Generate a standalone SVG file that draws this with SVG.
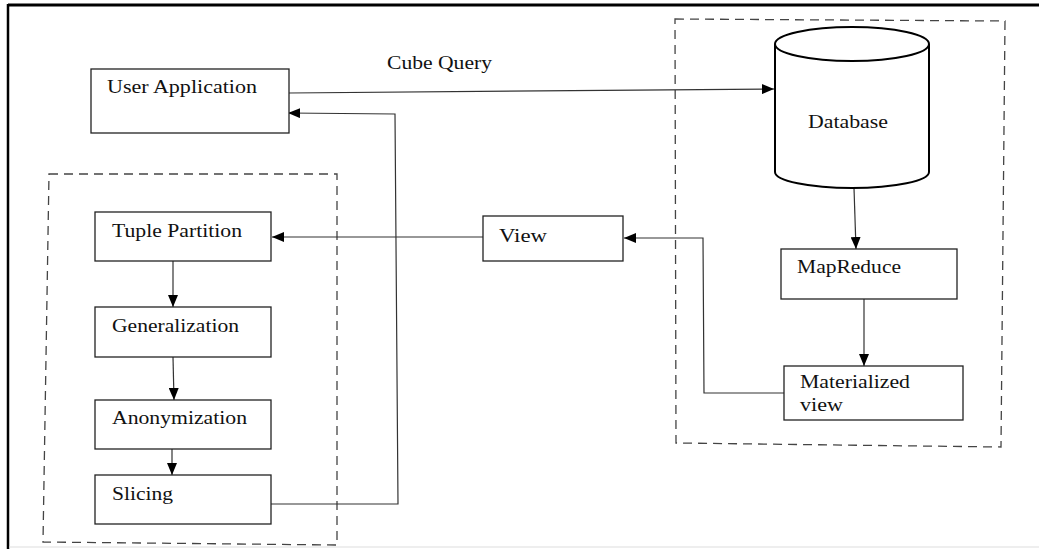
<svg xmlns="http://www.w3.org/2000/svg" width="1039" height="549" viewBox="0 0 1039 549">
<style>
.box{fill:#fff;stroke:#222;stroke-width:1.3}
.t{font-family:"Liberation Serif","Times New Roman",serif;font-size:19px;fill:#111}
.c{fill:none;stroke:#333;stroke-width:1.2}
.d{fill:none;stroke:#444;stroke-width:1.3;stroke-dasharray:9,6}
</style>
<defs>
<marker id="ah" viewBox="0 0 12 10" refX="12" refY="5" markerWidth="12" markerHeight="10" markerUnits="userSpaceOnUse" orient="auto">
<path d="M0,0 L12,5 L0,10 z" fill="#000"/>
</marker>
</defs>
<rect width="1039" height="549" fill="#fff"/>
<g id="frame">
<line x1="8" y1="5" x2="1039" y2="5" stroke="#000" stroke-width="3"/>
<line x1="8" y1="4" x2="8" y2="549" stroke="#000" stroke-width="2.5"/>
<line x1="9" y1="547" x2="1039" y2="547" stroke="#ddd" stroke-width="1"/>
</g>
<g id="groups">
<path class="d" d="M49,174 L337,174 L337,545 L43,542 Z"/>
<path class="d" d="M675,19 L1005,21 L1001,447 L676,443 Z"/>
</g>
<g id="connectors">
<line class="c" x1="289" y1="93" x2="774" y2="89" marker-end="url(#ah)"/>
<polyline class="c" points="269,504 398,504 395,114 288,113" marker-end="url(#ah)"/>
<line class="c" x1="854" y1="188" x2="856" y2="249" marker-end="url(#ah)"/>
<line class="c" x1="864" y1="299" x2="864" y2="366" marker-end="url(#ah)"/>
<polyline class="c" points="784,393 704,393 703,238 624,238" marker-end="url(#ah)"/>
<line class="c" x1="483" y1="237" x2="272" y2="237" marker-end="url(#ah)"/>
<line class="c" x1="173" y1="261" x2="173" y2="307" marker-end="url(#ah)"/>
<line class="c" x1="173" y1="357" x2="174" y2="400" marker-end="url(#ah)"/>
<line class="c" x1="172" y1="449" x2="172" y2="475" marker-end="url(#ah)"/>
</g>
<text class="t" x="387" y="69" textLength="105" lengthAdjust="spacingAndGlyphs">Cube Query</text>
<g id="user-application">
<rect class="box" x="91" y="69" width="198" height="64"/>
<text class="t" x="107" y="93" textLength="150" lengthAdjust="spacingAndGlyphs">User Application</text>
</g>
<g id="database">
<path d="M775,44 L775,172 A77,16 0 0 0 929,172 L929,44" fill="#fff" stroke="#000" stroke-width="2"/>
<ellipse cx="852" cy="44" rx="77" ry="17" fill="#fff" stroke="#000" stroke-width="2"/>
<text class="t" x="808" y="128" textLength="80" lengthAdjust="spacingAndGlyphs">Database</text>
</g>
<g id="mapreduce">
<rect class="box" x="781" y="249" width="176" height="50"/>
<text class="t" x="797" y="273" textLength="104" lengthAdjust="spacingAndGlyphs">MapReduce</text>
</g>
<g id="materialized-view">
<rect class="box" x="784" y="366" width="179" height="54"/>
<text class="t" x="800" y="388" textLength="110" lengthAdjust="spacingAndGlyphs">Materialized</text>
<text class="t" x="800" y="411" textLength="43" lengthAdjust="spacingAndGlyphs">view</text>
</g>
<g id="view">
<rect class="box" x="483" y="216" width="140" height="45"/>
<text class="t" x="499" y="242" textLength="48" lengthAdjust="spacingAndGlyphs">View</text>
</g>
<g id="tuple-partition">
<rect class="box" x="95" y="212" width="176" height="49"/>
<text class="t" x="112" y="237" textLength="130" lengthAdjust="spacingAndGlyphs">Tuple Partition</text>
</g>
<g id="generalization">
<rect class="box" x="95" y="307" width="176" height="50"/>
<text class="t" x="112" y="332" textLength="127" lengthAdjust="spacingAndGlyphs">Generalization</text>
</g>
<g id="anonymization">
<rect class="box" x="95" y="400" width="176" height="49"/>
<text class="t" x="112" y="424" textLength="135" lengthAdjust="spacingAndGlyphs">Anonymization</text>
</g>
<g id="slicing">
<rect class="box" x="95" y="475" width="176" height="49"/>
<text class="t" x="112" y="500" textLength="61" lengthAdjust="spacingAndGlyphs">Slicing</text>
</g>
</svg>
